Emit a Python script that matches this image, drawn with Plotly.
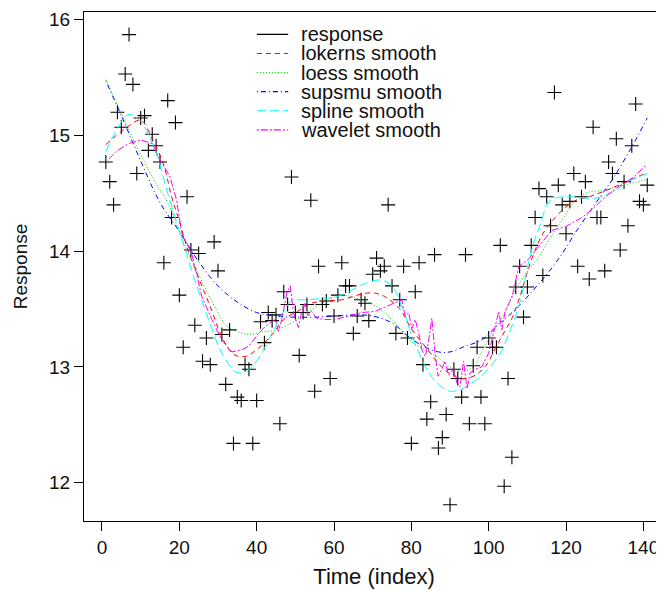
import plotly.graph_objects as go

# ---- dados ----
time_idx = list(range(1, 142))
response = [
    14.77, 14.60, 14.40, 15.20, 15.07, 15.53, 15.87, 15.44, 14.67, 15.15,
    15.17, 14.87, 15.01, 14.91, 14.77, 13.90, 15.30, 14.29, 15.11, 13.62,
    13.17, 14.47, 14.01, 13.36, 13.98, 13.05, 13.25, 13.02, 14.08, 13.83,
    13.28, 12.85, 13.32, 12.34, 12.74, 12.71, 13.02, 12.98, 12.34, 12.71,
    13.39, 13.21, 13.47, 13.40, 13.45, 12.51, 13.65, 13.54, 14.64, 13.47,
    13.10, 13.47, 13.54, 14.44, 12.79, 13.87, 13.54, 13.57, 12.90, 13.44,
    13.62, 13.90, 13.70, 13.70, 13.29, 13.44, 13.58, 13.55, 13.40, 13.80,
    13.94, 13.83, 13.87, 14.40, 13.70, 13.29, 13.58, 13.87, 13.25, 12.34,
    13.65, 13.90, 13.02, 12.55, 12.70, 13.97, 12.30, 12.39, 12.59, 11.81,
    12.98, 12.90, 12.74, 13.97, 12.51, 13.01, 13.17, 12.74, 12.51, 13.25,
    13.17, 13.17, 14.05, 11.97, 12.90, 12.22, 13.69, 13.87, 13.43, 13.69,
    14.05, 14.29, 14.54, 13.79, 14.47, 14.22, 15.37, 14.57, 14.40, 14.15,
    14.43, 14.67, 13.87, 14.47, 14.60, 13.76, 15.07, 14.29, 14.29, 13.83,
    14.77, 14.67, 14.97, 14.01, 14.60, 14.22, 14.91, 15.27, 14.43, 14.40,
    14.57,
]

lokerns_x = [1, 6, 10, 13, 16, 18, 20, 22, 25, 28, 31, 34, 37, 40, 44, 47, 51, 54, 58, 62,
             66, 70, 73, 77, 80, 84, 87, 90, 93, 96, 99, 102, 104, 106, 108, 111, 114, 118,
             122, 126, 130, 135, 141]
lokerns_y = [14.92, 15.06, 15.13, 14.97, 14.74, 14.47, 14.26, 14.03, 13.77, 13.52, 13.26,
             13.11, 13.09, 13.15, 13.28, 13.41, 13.49, 13.55, 13.57, 13.58, 13.62, 13.64,
             13.61, 13.50, 13.33, 13.16, 13.03, 12.94, 12.90, 12.92, 13.00, 13.18, 13.30,
             13.42, 13.60, 13.92, 14.15, 14.32, 14.43, 14.47, 14.52, 14.59, 14.68]

loess_x = [1, 5, 9, 14, 17, 21, 24, 27, 30, 32, 34, 38, 41, 45, 49, 53, 58, 62, 66, 70, 73,
           77, 80, 84, 87, 90, 93, 96, 98, 101, 104, 106, 109, 113, 116, 118, 120, 122, 125,
           130, 135, 141]
loess_y = [15.48, 15.19, 14.90, 14.58, 14.42, 14.08, 13.87, 13.66, 13.47, 13.36, 13.32,
           13.28, 13.30, 13.32, 13.38, 13.47, 13.57, 13.62, 13.59, 13.54, 13.47, 13.34,
           13.22, 13.14, 13.08, 13.00, 12.96, 13.00, 13.12, 13.30, 13.46, 13.61, 13.78,
           13.95, 14.12, 14.22, 14.32, 14.42, 14.50, 14.53, 14.57, 14.62]

supsmu_x = [1, 5, 10, 15, 20, 25, 30, 35, 40, 45, 50, 55, 60, 65, 70, 75, 79, 83, 87, 90,
            94, 98, 102, 107, 113, 118, 123, 128, 132, 137, 141]
supsmu_y = [15.47, 15.17, 14.78, 14.42, 14.17, 13.91, 13.70, 13.56, 13.47, 13.44, 13.43,
            13.43, 13.44, 13.45, 13.44, 13.38, 13.27, 13.18, 13.13, 13.13, 13.18, 13.23,
            13.35, 13.50, 13.72, 13.93, 14.19, 14.43, 14.62, 14.90, 15.15]

spline_x = [1, 4, 7, 10, 14, 17, 21, 24, 28, 31, 35, 38, 41, 43, 46, 49, 52, 57, 61, 65,
            68, 72, 75, 78, 80, 84, 87, 90, 93, 96, 99, 103, 105, 108, 111, 113, 116, 120,
            124, 128, 133, 136, 141]
spline_y = [14.86, 15.06, 15.18, 15.12, 14.85, 14.50, 14.07, 13.75, 13.37, 13.12, 12.95,
            12.98, 13.10, 13.23, 13.42, 13.57, 13.58, 13.59, 13.61, 13.67, 13.72, 13.75,
            13.70, 13.48, 13.28, 12.98, 12.85, 12.79, 12.81, 12.87, 12.95, 13.12, 13.27,
            13.55, 14.00, 14.20, 14.44, 14.47, 14.46, 14.46, 14.53, 14.60, 14.67]

wavelet_x = [1, 4, 7, 10, 13, 15, 17.5, 19.3, 20.6, 23.2, 25.8, 28.4, 31, 33.6, 36.2, 38,
             40.5, 42.2, 44.8, 45.6, 46.5, 47.8, 48.7, 49.5, 50.8, 51.6, 52.5, 53.3, 54.2,
             55.5, 57.7, 60.3, 63.7, 67.2, 70.6, 74.9, 77.5, 78.4, 79.3, 80.1, 81, 81.9,
             82.7, 83.6, 84.4, 85.3, 86.2, 86.9, 87.9, 88.7, 89.6, 90.9, 91.8, 92.6, 93.5,
             94.4, 95.2, 96.5, 98.2, 100, 100.8, 101.7, 102.6, 103.4, 104.3, 106, 107.8,
             110.3, 112.9, 116.3, 119.8, 124.1, 126.7, 130.2, 133.7, 135.3, 137.9, 140.5]
wavelet_y = [14.77, 14.87, 14.93, 14.96, 14.93, 14.79, 14.65, 14.44, 14.16, 13.98, 13.61,
             13.41, 13.23, 13.13, 13.15, 13.18, 13.29, 13.35, 13.41, 13.31, 13.41, 13.64,
             13.70, 13.47, 13.34, 13.47, 13.55, 13.44, 13.48, 13.42, 13.41, 13.41, 13.44,
             13.47, 13.48, 13.54, 13.58, 13.44, 13.47, 13.33, 13.41, 13.29, 13.15, 13.09,
             13.21, 13.42, 13.09, 12.92, 12.98, 13.05, 12.93, 12.98, 12.86, 12.83, 13.05,
             12.81, 12.95, 12.98, 13.00, 13.12, 13.23, 13.38, 13.48, 13.32, 13.49, 13.60,
             13.87, 13.93, 14.04, 14.18, 14.21, 14.29, 14.36, 14.47, 14.56, 14.59, 14.65,
             14.74]

x_ticks = [0, 20, 40, 60, 80, 100, 120, 140]
y_ticks = [12, 13, 14, 15, 16]

FONTE = "Liberation Sans, Arial, sans-serif"

# (nome, cor, tracejado, x, y, forma)
SUAVES = [
    ("lokerns smooth", "#FF0000", "5px,4px", lokerns_x, lokerns_y, "spline"),
    ("loess smooth", "#00CD00", "1px,2px", loess_x, loess_y, "spline"),
    ("supsmu smooth", "#0000FF", "1px,3px,5px,3px", supsmu_x, supsmu_y, "spline"),
    ("spline smooth", "#00FFFF", "9px,4px", spline_x, spline_y, "spline"),
    ("wavelet smooth", "#FF00FF", "2px,2px,7px,2px", wavelet_x, wavelet_y, "linear"),
]

fig = go.Figure()

fig.add_trace(go.Scatter(
    x=time_idx, y=response, mode="markers", name="response", showlegend=False,
    marker=dict(symbol="cross-thin", size=10, line=dict(color="black", width=1.1)),
))

for nome, cor, traco, xs, ys, forma in SUAVES:
    fig.add_trace(go.Scatter(
        x=xs, y=ys, mode="lines", name=nome, showlegend=False,
        line=dict(color=cor, width=1, dash=traco, shape=forma),
    ))

# legenda no estilo do R (sem caixa, espaçamento compacto)
itens = [("response", "black", "solid")] + [(s[0], s[1], s[2]) for s in SUAVES]
leg_x0, leg_x1, leg_txt = 0.298, 0.352, 0.370
leg_top, leg_step = 0.956, 0.0375
for i, (nome, cor, traco) in enumerate(itens):
    yy = leg_top - i * leg_step
    fig.add_shape(type="line", xref="paper", yref="paper", x0=leg_x0, x1=leg_x1, y0=yy, y1=yy,
                  line=dict(color=cor, width=1.2, dash=traco))
    fig.add_annotation(xref="paper", yref="paper", x=leg_txt, y=yy, text=nome, showarrow=False,
                       xanchor="left", yanchor="middle", font=dict(size=20, color="#111"))

eixo = dict(showline=True, linecolor="black", linewidth=1, mirror=True, showgrid=False,
            zeroline=False, ticks="outside", ticklen=9, tickcolor="black", automargin=False,
            tickfont=dict(size=19, color="#111"))

fig.update_xaxes(eixo, range=[-4.65, 145.33], tickvals=x_ticks,
                 title=dict(text="Time (index)", font=dict(size=22, color="#111"), standoff=11))
fig.update_yaxes(eixo, range=[11.67, 16.065], tickvals=y_ticks,
                 title=dict(text="Response", font=dict(size=19, color="#111"), standoff=16))

# a página tem 8px de margem no body: a figura é 8px menor e as margens compensam
fig.update_layout(
    width=656, height=582,
    margin=dict(l=76, r=0, t=4, b=69),
    plot_bgcolor="white", paper_bgcolor="white",
    font=dict(family=FONTE, color="#111"),
    showlegend=False,
)

fig.write_html("out.html")
